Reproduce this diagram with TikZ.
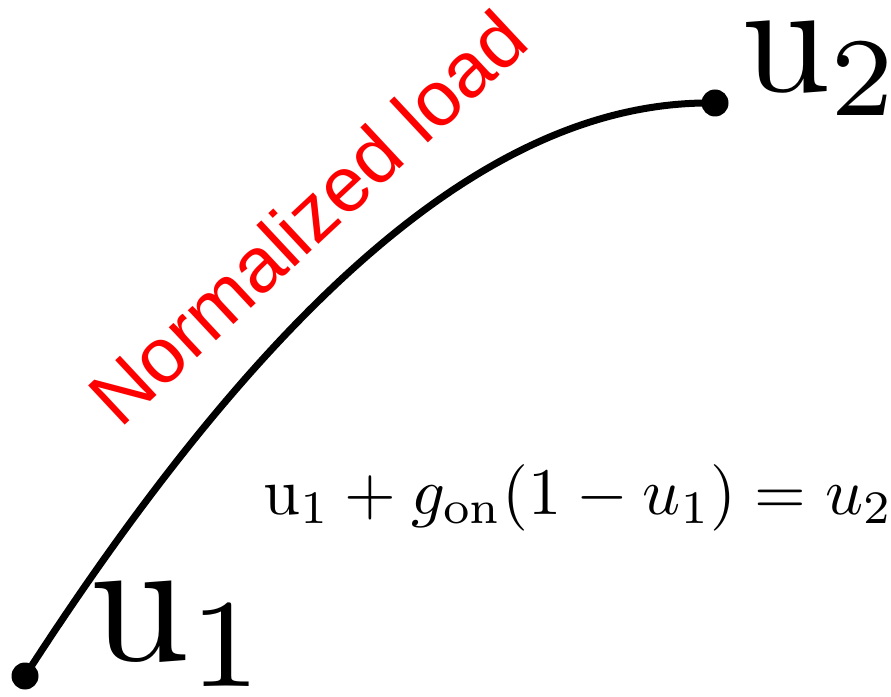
\documentclass[tikz,border=0pt]{standalone}
\usepackage{fontspec}
\newfontfamily\labelsans{Liberation Sans}
\begin{document}
\begin{tikzpicture}[x=1pt,y=1pt,
  curve/.style={line width=7pt},
  enddot/.style={circle,fill=black,inner sep=0pt,minimum size=27pt},
  bigu/.style={inner sep=0pt,anchor=base west},
  redlabel/.style={text=red,font=\labelsans\fontsize{78}{90}\selectfont,inner sep=0pt,anchor=base west,rotate=43}]
\useasboundingbox (0,0) rectangle (891,696);
\node[enddot] (p1) at (25,20) {};
\node[enddot] (p2) at (715,593) {};
\draw[curve] (p1.center) .. controls (300,446) and (520,596) .. (p2.center);
\node[bigu,scale=18] (l1) at (86,36) {$\mathrm{u}_1$};
\node[bigu,scale=16] (l2) at (738,604) {$\mathrm{u}_2$};
\node[bigu,scale=6.65] (eq) at (262,182) {$\mathrm{u}_1+g_{\mathrm{on}}(1-u_1)=u_2$};
\node[redlabel] (nl) at (120,266) {Normalized load};
\end{tikzpicture}
\end{document}
